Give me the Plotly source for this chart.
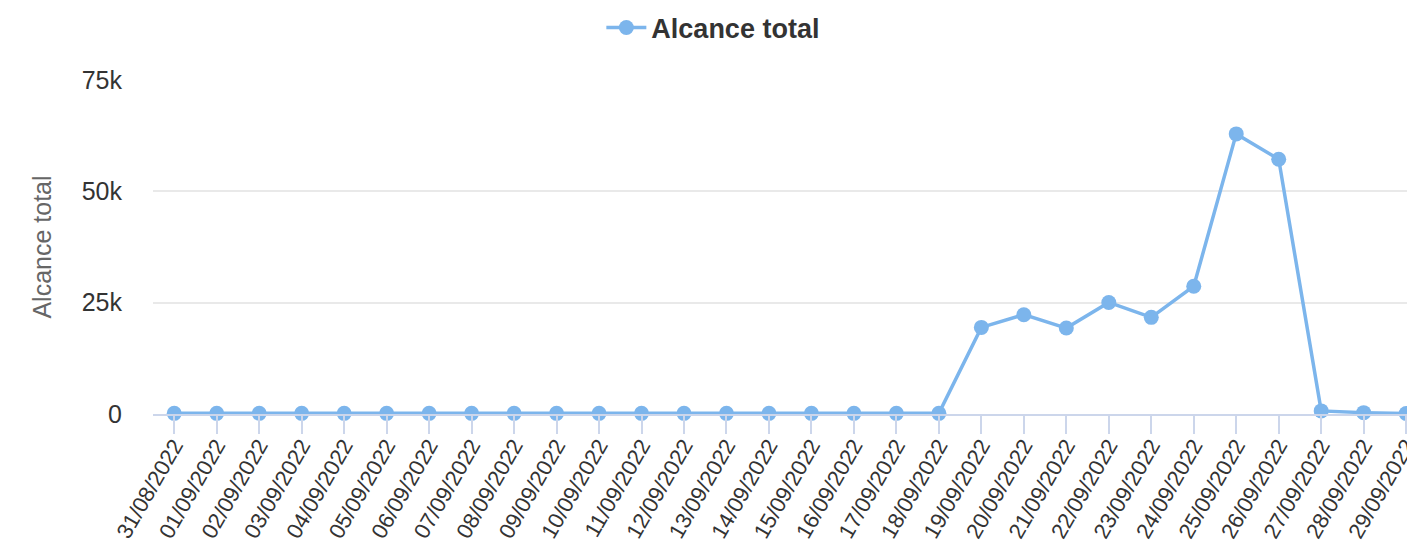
import plotly.graph_objects as go

categories = [
    "31/08/2022", "01/09/2022", "02/09/2022", "03/09/2022", "04/09/2022",
    "05/09/2022", "06/09/2022", "07/09/2022", "08/09/2022", "09/09/2022",
    "10/09/2022", "11/09/2022", "12/09/2022", "13/09/2022", "14/09/2022",
    "15/09/2022", "16/09/2022", "17/09/2022", "18/09/2022", "19/09/2022",
    "20/09/2022", "21/09/2022", "22/09/2022", "23/09/2022", "24/09/2022",
    "25/09/2022", "26/09/2022", "27/09/2022", "28/09/2022", "29/09/2022",
]
alcance_total = [
    150, 150, 150, 150, 150, 150, 150, 150, 150, 150,
    150, 150, 150, 150, 150, 150, 150, 150, 150, 19450,
    22300, 19300, 25050, 21700, 28700, 62900, 57200, 700, 300, 100,
]
y_tick_vals = [0, 25000, 50000, 75000]
y_tick_text = ["0", "25k", "50k", "75k"]

FONT = "Liberation Sans, Arial, Helvetica, sans-serif"
COLOR = "#7cb5ec"

fig = go.Figure()
fig.add_trace(go.Scatter(
    x=list(range(len(categories))),
    y=alcance_total,
    mode="lines+markers",
    name="Alcance total",
    line=dict(color=COLOR, width=3.5),
    marker=dict(color=COLOR, size=15),
    cliponaxis=False,
))

fig.update_layout(
    width=1407,
    height=548,
    margin=dict(l=153, r=0, t=80, b=134, autoexpand=False),
    paper_bgcolor="white",
    plot_bgcolor="white",
    font=dict(family=FONT, color="#333333"),
    showlegend=True,
    legend=dict(
        orientation="h",
        x=0.507, xref="container", xanchor="center",
        y=0.949, yref="container", yanchor="middle",
        font=dict(size=27, color="#333333", family=FONT, weight="bold"),
        itemwidth=40,
    ),
    xaxis=dict(
        automargin=False,
        tickmode="array",
        tickvals=list(range(len(categories))),
        ticktext=categories,
        range=[-0.5, 29.02],
        tickangle=-60,
        tickfont=dict(size=22, color="#333333"),
        showgrid=False,
        zeroline=False,
        showline=True,
        linecolor="#ccd6eb",
        linewidth=2,
        ticks="outside",
        ticklen=18,
        tickwidth=2,
        tickcolor="#ccd6eb",
        tickson="boundaries",
        ticklabelstandoff=-10,
        ticklabeloverflow="allow",
    ),
    yaxis=dict(
        automargin=False,
        range=[0, 75000],
        tickmode="array",
        tickvals=y_tick_vals,
        ticktext=y_tick_text,
        tickfont=dict(size=25, color="#333333"),
        showgrid=True,
        gridcolor="#e9e9e9",
        gridwidth=2,
        zeroline=False,
        showline=False,
        ticks="",
        ticklabelstandoff=30,
        title=dict(text="Alcance total", font=dict(size=25, color="#666666"), standoff=22),
    ),
)

fig.write_html(
    "out.html",
    config={"displayModeBar": False},
    post_script="document.body.style.margin='0';",
)
